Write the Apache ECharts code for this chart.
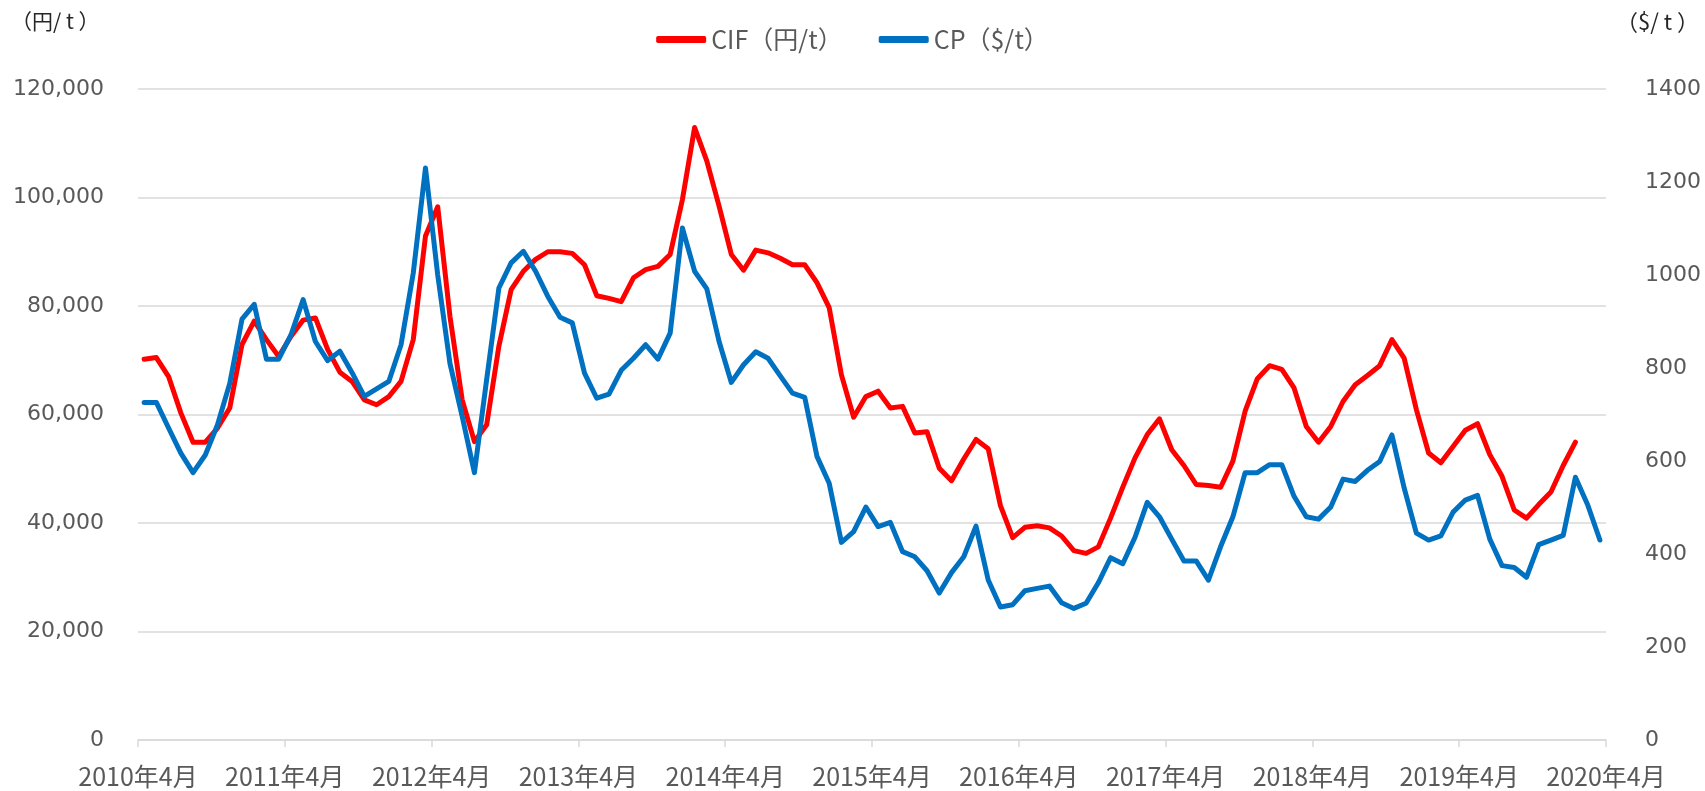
<!DOCTYPE html>
<html>
<head>
<meta charset="utf-8">
<title>CIF / CP</title>
<script src="https://cdn.jsdelivr.net/npm/echarts@6/dist/echarts.min.js"></script>
<style>
  html, body { margin: 0; padding: 0; background: #fff; }
  #line-chart { width: 1705px; height: 791px; }
</style>
</head>
<body>
<div id="line-chart"></div>
<script>
// 月次データ 2010年4月〜2020年3月
var months = [];
for (var y = 2010; y < 2020; y++) {
  for (var k = 0; k < 12; k++) {
    var mm = (k + 3) % 12 + 1;
    months.push((mm < 4 ? y + 1 : y) + '年' + mm + '月');
  }
}

var xTickLabels = ['2010年4月', '2011年4月', '2012年4月', '2013年4月', '2014年4月', '2015年4月',
  '2016年4月', '2017年4月', '2018年4月', '2019年4月', '2020年4月'];

// CIF（円/t）
var cif = [
  70200, 70500, 67000, 60300, 54900, 54900, 57500, 61200, 72900, 77200, 73800, 70700,
  74400, 77400, 77800, 72000, 67800, 66100, 62700, 61800, 63300, 66100, 73800, 92900,
  98300, 78100, 62700, 55000, 58100, 72600, 83000, 86400, 88600, 90000, 90000, 89700,
  87600, 81900, 81400, 80800, 85200, 86700, 87300, 89500, 99600, 112900, 106700, 98400,
  89500, 86600, 90300, 89800, 88800, 87600, 87600, 84300, 79700, 67300, 59500, 63300,
  64300, 61200, 61500, 56600, 56800, 50100, 47800, 51800, 55400, 53700, 43200, 37300,
  39200, 39500, 39100, 37600, 34900, 34400, 35600, 40900, 46600, 52000, 56300, 59200,
  53500, 50600, 47100, 46900, 46600, 51400, 60600, 66600, 69000, 68300, 64900, 57800,
  54900, 57800, 62400, 65500, 67200, 69000, 73800, 70400, 60900, 52900, 51100, 54100,
  57100, 58300, 52600, 48600, 42400, 40900, 43400, 45700, 50600, 54900, null, null
];

// CP（$/t）
var cp = [
  726, 726, 671, 617, 575, 613, 678, 767, 905, 937, 819, 819,
  871, 947, 857, 816, 836, 790, 739, 755, 771, 850, 1004, 1230,
  1000, 810, 696, 575, 775, 972, 1026, 1051, 1008, 954, 909, 897,
  789, 735, 744, 795, 821, 850, 819, 875, 1101, 1008, 970, 857,
  769, 807, 835, 821, 783, 746, 737, 610, 552, 425, 448, 501,
  459, 468, 405, 394, 364, 316, 360, 394, 460, 344, 286, 291,
  321, 326, 331, 295, 283, 294, 338, 392, 379, 436, 511, 480,
  432, 385, 385, 344, 416, 480, 575, 575, 592, 592, 524, 480,
  475, 501, 561, 556, 580, 599, 656, 542, 445, 430, 439, 490,
  516, 526, 432, 375, 371, 350, 420, 430, 440, 565, 506, 430
];

var myChart = echarts.init(document.getElementById('line-chart'));

var labelColor = '#595959';
var gridColor = '#d9d9d9';
var numFont = 'DejaVu Sans, Verdana, sans-serif';
var jpFont = 'Noto Sans CJK JP, sans-serif';

var option = {
  animation: false,
  backgroundColor: '#fff',
  grid: { left: 138, right: 99, top: 89, bottom: 51, containLabel: false },
  legend: {
    top: 22,
    left: 'center',
    itemGap: 36,
    itemWidth: 50,
    itemHeight: 7,
    icon: 'roundRect',
    textStyle: { color: labelColor, fontSize: 25, fontFamily: jpFont },
    data: ['CIF（円/t）', 'CP（$/t）']
  },
  graphic: [
    { type: 'text', left: 11, top: 11, style: { text: '（円/ t ）', fill: '#262626', font: '21px ' + jpFont } },
    { type: 'text', right: 6, top: 11, style: { text: '（$/ t ）', fill: '#262626', font: '22px ' + jpFont } }
  ],
  xAxis: [
    {
      type: 'category',
      data: months,
      boundaryGap: true,
      show: false
    },
    {
      type: 'value',
      min: 0,
      max: 120,
      interval: 12,
      position: 'bottom',
      axisLine: { show: true, lineStyle: { color: gridColor, width: 1.5 } },
      axisTick: { show: true, length: 7, lineStyle: { color: gridColor, width: 1.5 } },
      splitLine: { show: false },
      axisLabel: {
        color: labelColor,
        fontSize: 25,
        fontFamily: jpFont,
        margin: 24,
        formatter: function (v) { return xTickLabels[Math.round(v / 12)]; }
      }
    }
  ],
  yAxis: [
    {
      type: 'value',
      min: 0,
      max: 120000,
      interval: 20000,
      axisLine: { show: false },
      axisTick: { show: false },
      splitLine: { lineStyle: { color: gridColor, width: 1.5 } },
      axisLabel: {
        color: labelColor,
        fontSize: 22,
        fontFamily: numFont,
        margin: 34,
        formatter: function (v) { return v.toLocaleString('en-US'); }
      }
    },
    {
      type: 'value',
      min: 0,
      max: 1400,
      interval: 200,
      position: 'right',
      axisLine: { show: false },
      axisTick: { show: false },
      splitLine: { show: false },
      axisLabel: {
        color: labelColor,
        fontSize: 22,
        fontFamily: numFont,
        margin: 39,
        formatter: function (v) { return String(v); }
      }
    }
  ],
  series: [
    {
      name: 'CIF（円/t）',
      type: 'line',
      xAxisIndex: 0,
      yAxisIndex: 0,
      data: cif,
      symbol: 'none',
      color: '#ff0000',
      lineStyle: { width: 5, color: '#ff0000', cap: 'round', join: 'round' }
    },
    {
      name: 'CP（$/t）',
      type: 'line',
      xAxisIndex: 0,
      yAxisIndex: 1,
      data: cp,
      symbol: 'none',
      color: '#0070c0',
      lineStyle: { width: 5, color: '#0070c0', cap: 'round', join: 'round' }
    }
  ]
};

myChart.setOption(option);
</script>
</body>
</html>
